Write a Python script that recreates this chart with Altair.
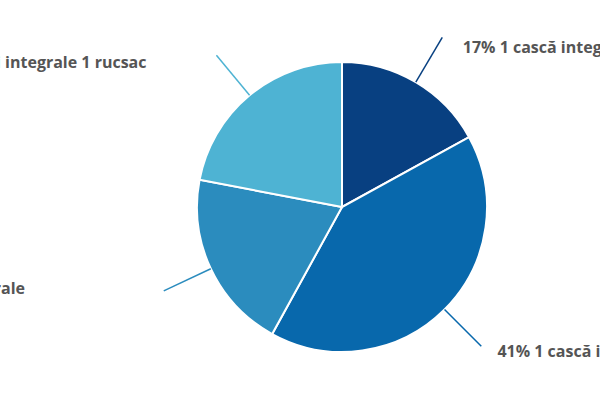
import altair as alt
import pandas as pd

labels = [
    "17% 1 cască integrală 1 rucsac",
    "41% 1 cască integrală",
    "20% 2 căști integrale",
    "22% 2 căști integrale 1 rucsac",
]
values = [17, 41, 20, 22]
colors = ["#084081", "#0868ac", "#2b8cbe", "#4eb3d3"]

df = pd.DataFrame({"idx": list(range(len(values))), "label": labels, "value": values})

CX, CY, R = 342, 207, 145
R_LINE0, R_LINE1, R_LAB = 145, 197, 200

base = (
    alt.Chart(df)
    .transform_window(cum="sum(value)", sort=[alt.SortField("idx")], frame=[None, 0])
    .transform_joinaggregate(total="sum(value)")
    .transform_calculate(
        t0="(datum.cum - datum.value) / datum.total * 2 * PI",
        t1="datum.cum / datum.total * 2 * PI",
    )
    .transform_calculate(mid="(datum.t0 + datum.t1) / 2")
    .transform_calculate(
        lx0=f"{CX} + {R_LINE0} * sin(datum.mid)",
        ly0=f"{CY} - {R_LINE0} * cos(datum.mid)",
        lx1=f"{CX} + {R_LINE1} * sin(datum.mid)",
        ly1=f"{CY} - {R_LINE1} * cos(datum.mid)",
        tx=f"{CX} + {R_LAB} * sin(datum.mid)",
        ty=f"{CY} - {R_LAB} * cos(datum.mid)",
    )
)

color = alt.Color("label:N", scale=alt.Scale(domain=labels, range=colors), legend=None)

arcs = base.mark_arc(outerRadius=R, stroke="white", strokeWidth=2).encode(
    theta=alt.Theta("t0:Q", scale=None),
    theta2="t1:Q",
    color=color,
    x=alt.value(CX),
    y=alt.value(CY),
)

lines = base.mark_rule(strokeWidth=1.5).encode(
    x=alt.X("lx0:Q", scale=None, axis=None),
    y=alt.Y("ly0:Q", scale=None, axis=None),
    x2="lx1:Q",
    y2="ly1:Q",
    color=color,
)

offsets = [
    ("left", 19, 18),
    ("left", 14, 9),
    ("right", -136, 2),
    ("right", -68, 15),
]

text_layers = []
for i, (al, ddx, ddy) in enumerate(offsets):
    t = (
        base.transform_filter(f"datum.idx == {i}")
        .mark_text(
            align=al,
            baseline="alphabetic",
            dx=ddx,
            dy=ddy,
            font="Open Sans",
            fontSize=16,
            fontWeight="bold",
            color="#555555",
        )
        .encode(
            x=alt.X("tx:Q", scale=None, axis=None),
            y=alt.Y("ty:Q", scale=None, axis=None),
            text="label:N",
        )
    )
    text_layers.append(t)

chart = (
    alt.layer(arcs, lines, *text_layers)
    .properties(width=600, height=400, autosize=alt.AutoSizeParams(type="none"), padding=0, background="white")
    .configure_view(stroke=None)
)

chart.save("out.html", embed_options={"renderer": "svg", "actions": False})
